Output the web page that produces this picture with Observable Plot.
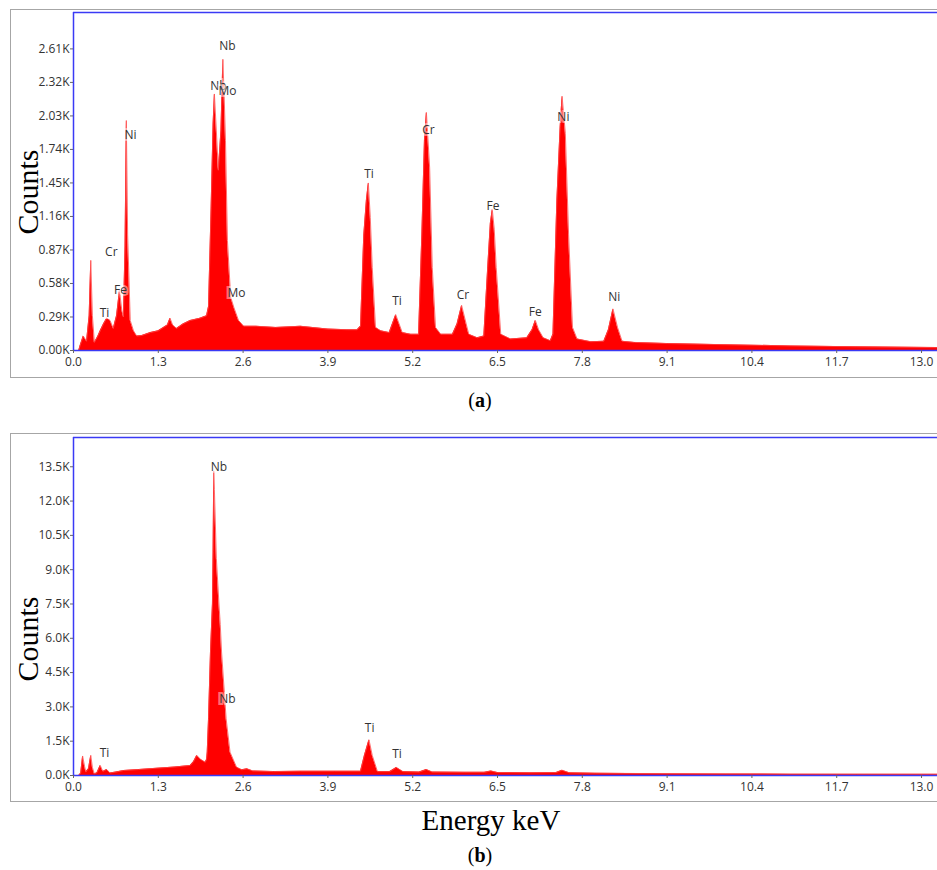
<!DOCTYPE html>
<html>
<head>
<meta charset="utf-8">
<script src="https://cdn.jsdelivr.net/npm/d3@7"></script>
<script src="https://cdn.jsdelivr.net/npm/@observablehq/plot@0.6"></script>
<style>
  body { margin: 0; background: #fff; }
  #wrap { position: relative; width: 937px; height: 870px; overflow: hidden; background: #fff; }
  .frame { position: absolute; left: 10px; width: 960px; border: 1.5px solid #a6a6a6; box-sizing: border-box; }
  .plot { position: absolute; left: 0; }
  .ylab { position: absolute; width: 140px; height: 30px; line-height: 30px; text-align: center;
          font-family: "Liberation Serif", "Times New Roman", serif; font-size: 30px; color: #000;
          transform: rotate(-90deg); white-space: nowrap; }
  .cap { position: absolute; width: 200px; text-align: center; font-family: "Liberation Serif", serif; color: #000; white-space: nowrap; }
</style>
</head>
<body>
<div id="wrap">
  <div class="frame" style="top:9px;height:369px"></div>
  <div class="frame" style="top:433px;height:369px"></div>
  <div id="pa" class="plot" style="top:0px"></div>
  <div id="pb" class="plot" style="top:425px"></div>
  <div class="ylab" style="left:-42px;top:177px">Counts</div>
  <div class="ylab" style="left:-42px;top:624px">Counts</div>
  <div class="cap" style="left:380px;top:388px;font-size:20px;line-height:24px">(<b>a</b>)</div>
  <div class="cap" style="left:341px;top:803px;font-size:29px;line-height:34px;width:300px">Energy keV</div>
  <div class="cap" style="left:380px;top:843px;font-size:20px;line-height:24px">(<b>b</b>)</div>
</div>
<script>
// ---------- data ----------
const xTicks = [0, 1.3, 2.6, 3.9, 5.2, 6.5, 7.8, 9.1, 10.4, 11.7, 13.0];

// Panel (a): energy (keV) and counts
const topEnergy = [0.08, 0.10, 0.15, 0.20, 0.24, 0.265, 0.29, 0.32, 0.37, 0.41, 0.46, 0.51, 0.56, 0.61, 0.66, 0.705, 0.74, 0.765,
  0.79, 0.81, 0.83, 0.87, 0.92, 0.97, 1.05, 1.18, 1.30, 1.38, 1.44, 1.48, 1.52, 1.58, 1.68, 1.79, 1.94, 2.04, 2.07, 2.11, 2.14,
  2.16, 2.19, 2.22, 2.26, 2.29, 2.31, 2.33, 2.36, 2.41, 2.46, 2.53, 2.61, 2.8, 3.1, 3.48, 3.9, 4.2, 4.35, 4.40, 4.45, 4.49, 4.52,
  4.55, 4.58, 4.63, 4.71, 4.84, 4.94, 5.04, 5.17, 5.29, 5.34, 5.38, 5.41, 5.46, 5.50, 5.55, 5.63, 5.81, 5.88, 5.95, 6.02, 6.06,
  6.19, 6.29, 6.35, 6.39, 6.42, 6.45, 6.48, 6.55, 6.7, 6.95, 7.03, 7.08, 7.13, 7.2, 7.31, 7.35, 7.41, 7.46, 7.49, 7.54, 7.59,
  7.65, 7.72, 7.93, 8.13, 8.2, 8.27, 8.34, 8.41, 8.6, 9.1, 10.0, 11.0, 12.0, 13.25];
const topCounts = [0, 40, 125, 80, 300, 780, 300, 70, 120, 170, 230, 280, 260, 190, 300, 520, 350, 290,
  900, 1990, 1000, 260, 170, 125, 130, 155, 170, 200, 220, 280, 220, 190, 230, 260, 280, 300, 380, 1240, 1960,
  2220, 1900, 1560, 1900, 2520, 2200, 1820, 950, 460, 370, 260, 210, 210, 200, 210, 185, 180, 180, 210, 1000, 1300, 1450,
  1150, 720, 200, 170, 155, 310, 155, 140, 140, 1000, 1820, 2060, 1580, 720, 200, 140, 140, 230, 390, 230, 140,
  110, 125, 720, 1100, 1220, 1050, 720, 140, 100, 110, 180, 260, 180, 110, 85, 140, 1300, 1930, 2200, 1880, 1000,
  200, 100, 76, 80, 180, 360, 200, 80, 70, 60, 50, 40, 32, 25];
const topYMax = 2925;
const topYTicks = [0, 290, 580, 870, 1160, 1450, 1740, 2030, 2320, 2610];
const topLabelText = ["Ti", "Cr", "Fe", "Ni", "Nb", "Nb", "Mo", "Mo", "Ti", "Ti", "Cr", "Cr", "Fe", "Fe", "Ni", "Ni"];
const topLabelE = [0.475, 0.58, 0.72, 0.874, 2.36, 2.22, 2.36, 2.5, 4.53, 4.96, 5.44, 5.97, 6.43, 7.08, 7.51, 8.29];
const topLabelC = [325, 854, 524, 1860, 2630, 2290, 2240, 498, 1530, 430, 1910, 480, 1246, 336, 2020, 458];

// Panel (b): energy (keV) and counts
const bottomEnergy = [0.08, 0.11, 0.14, 0.17, 0.19, 0.23, 0.265, 0.29, 0.32, 0.36, 0.41, 0.45, 0.51, 0.56, 0.65, 0.77, 1.0,
  1.28, 1.55, 1.79, 1.84, 1.89, 1.95, 2.02, 2.04, 2.05, 2.07, 2.10, 2.13, 2.14, 2.15, 2.16, 2.19, 2.23, 2.25, 2.27, 2.34,
  2.40, 2.5, 2.58, 2.66, 2.75, 3.07, 3.48, 4.0, 4.40, 4.46, 4.53, 4.58, 4.66, 4.85, 4.95, 5.05, 5.3, 5.41, 5.5, 6.0, 6.3,
  6.4, 6.5, 7.0, 7.4, 7.49, 7.6, 8.0, 9.0, 10.0, 11.0, 12.0, 13.25];
const bottomCounts = [0, 100, 850, 400, 150, 300, 880, 350, 70, 120, 440, 180, 260, 110, 150, 220, 260,
  320, 370, 440, 600, 880, 700, 580, 700, 1020, 2480, 5400, 7500, 9800, 13300, 12500, 9500, 7500, 6600, 5400, 2480,
  1020, 360, 250, 290, 200, 170, 190, 190, 190, 880, 1560, 880, 170, 170, 350, 170, 150, 260, 150, 140, 140,
  200, 130, 120, 130, 230, 120, 100, 80, 70, 60, 55, 50];
const bottomYMax = 14780;
const bottomYTicks = [0, 1500, 3000, 4500, 6000, 7500, 9000, 10500, 12000, 13500];
const bottomLabelText = ["Nb", "Nb", "Ti", "Ti", "Ti"];
const bottomLabelE = [2.23, 2.36, 0.475, 4.54, 4.96];
const bottomLabelC = [13490, 3360, 990, 2070, 950];

// ---------- drawing ----------
const blue = "#3a3af5";
function panel(E, C, yMax, yTicks, yFmt, labT, labE, labC) {
  const data = E.map((e, i) => ({e, c: C[i]}));
  const labels = labT.map((t, i) => ({t, e: labE[i], c: labC[i]}));
  return Plot.plot({
    width: 937, height: 380,
    marginLeft: 73, marginRight: 0, marginTop: 12, marginBottom: 30,
    style: {fontFamily: "'Open Sans', 'Noto Sans', sans-serif", fontSize: "12px", color: "#333", background: "transparent", overflow: "visible"},
    x: {domain: [0, 13.245], label: null},
    y: {domain: [0, yMax], label: null},
    marks: [
      Plot.areaY(data, {x: "e", y: "c", fill: "#ff0000", curve: "linear"}),
      Plot.lineY(data, {x: "e", y: "c", stroke: "#ff4a4a", strokeWidth: 0.8, curve: "linear"}),
      Plot.ruleY([0], {stroke: blue, strokeWidth: 1.5}),
      Plot.ruleY([yMax], {stroke: blue, strokeWidth: 1.5}),
      Plot.ruleX([0], {stroke: blue, strokeWidth: 1.5}),
      Plot.axisX({ticks: xTicks, tickFormat: d => d.toFixed(1), tickSize: 3, tickPadding: 4, stroke: "#666", fill: "#333"}),
      Plot.axisY({ticks: yTicks, tickFormat: yFmt, tickSize: 3, tickPadding: 1, stroke: "#666", fill: "#333"}),
      Plot.text(labels, {x: "e", y: "c", text: "t", fill: "#333", fontSize: 12,
        stroke: "white", strokeOpacity: 0.45, strokeWidth: 4, strokeLinejoin: "miter"})
    ]
  });
}
document.getElementById("pa").appendChild(
  panel(topEnergy, topCounts, topYMax, topYTicks, d => (d / 1000).toFixed(2) + "K", topLabelText, topLabelE, topLabelC));
document.getElementById("pb").appendChild(
  panel(bottomEnergy, bottomCounts, bottomYMax, bottomYTicks, d => (d / 1000).toFixed(1) + "K", bottomLabelText, bottomLabelE, bottomLabelC));
</script>
</body>
</html>
